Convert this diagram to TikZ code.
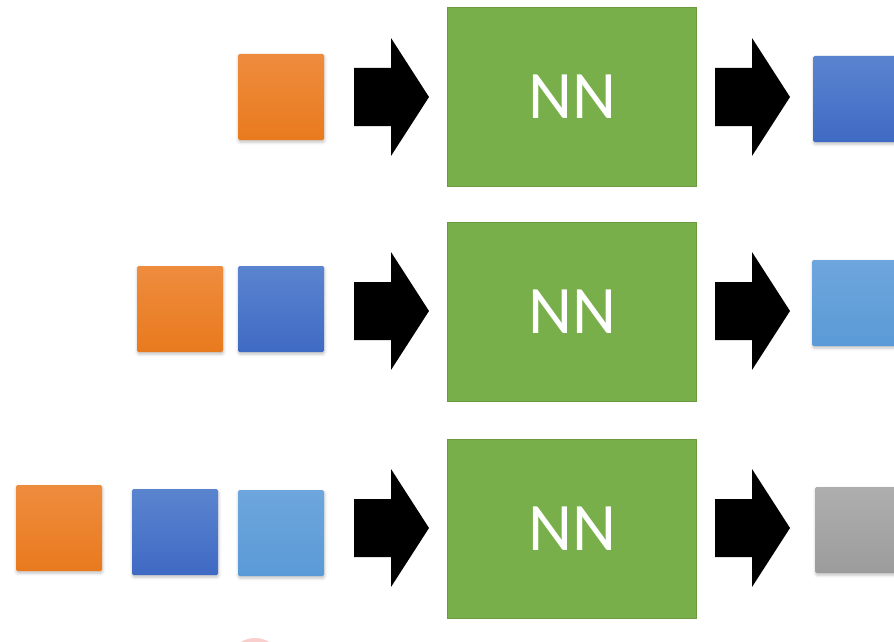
\documentclass[tikz,border=0pt]{standalone}
\usepackage{fontspec}
\setmainfont{Carlito}
\usetikzlibrary{shadows.blur}
\definecolor{orTop}{HTML}{EE8C3E}
\definecolor{orBot}{HTML}{E97A1E}
\definecolor{dbTop}{HTML}{5B84CF}
\definecolor{dbBot}{HTML}{3F6AC4}
\definecolor{lbTop}{HTML}{6EA6DD}
\definecolor{lbBot}{HTML}{5A9AD6}
\definecolor{gyTop}{HTML}{AEAEAE}
\definecolor{gyBot}{HTML}{9C9C9C}
\definecolor{nnFill}{HTML}{78AF4B}
\definecolor{nnEdge}{HTML}{6A9C3F}
\definecolor{dotRed}{HTML}{F3A8A4}
\tikzset{
  x=1pt, y=-1pt,
  tok/.style={rectangle, inner sep=0pt, minimum width=86pt, minimum height=86pt,
    rounded corners=1.5pt, blur shadow={shadow xshift=0.5pt, shadow yshift=-2pt,
    shadow blur radius=3pt, shadow opacity=25}},
  orangetok/.style={tok, top color=orTop, bottom color=orBot},
  bluetok/.style={tok, top color=dbTop, bottom color=dbBot},
  lighttok/.style={tok, top color=lbTop, bottom color=lbBot},
  graytok/.style={tok, top color=gyTop, bottom color=gyBot},
  nnbox/.style={rectangle, fill=nnFill, draw=nnEdge, line width=1pt,
    minimum width=249pt, minimum height=179pt, inner sep=0pt,
    text=white, font=\fontsize{68}{68}\selectfont},
  blockarrow/.pic={\fill[black] (0,-29) -- (37,-29) -- (37,-59) -- (75,0)
    -- (37,59) -- (37,29) -- (0,29) -- cycle;}
}
\begin{document}
\begin{tikzpicture}
\useasboundingbox (0,0) rectangle (894,642);
\begin{scope}
\clip (0,0) rectangle (894,642);
% faint mark at the lower edge
\fill[dotRed, opacity=0.55] (255,666) circle (28);

% row 1
\node[orangetok] (a1) at (281,97) {};
\pic at (354,97) {blockarrow};
\node[nnbox] (nn1) at (572,97) {NN};
\pic at (715,97) {blockarrow};
\node[bluetok, anchor=west] (o1) at (813,99) {};

% row 2
\node[orangetok] (b1) at (180,309) {};
\node[bluetok] (b2) at (281,309) {};
\pic at (354,311) {blockarrow};
\node[nnbox] (nn2) at (572,312) {NN};
\pic at (715,311) {blockarrow};
\node[lighttok, anchor=west] (o2) at (812,303) {};

% row 3
\node[orangetok] (c1) at (59,528) {};
\node[bluetok] (c2) at (175,532) {};
\node[lighttok] (c3) at (281,533) {};
\pic at (354,528) {blockarrow};
\node[nnbox] (nn3) at (572,529) {NN};
\pic at (715,528) {blockarrow};
\node[graytok, anchor=west] (o3) at (815,530) {};
\end{scope}
\end{tikzpicture}
\end{document}
